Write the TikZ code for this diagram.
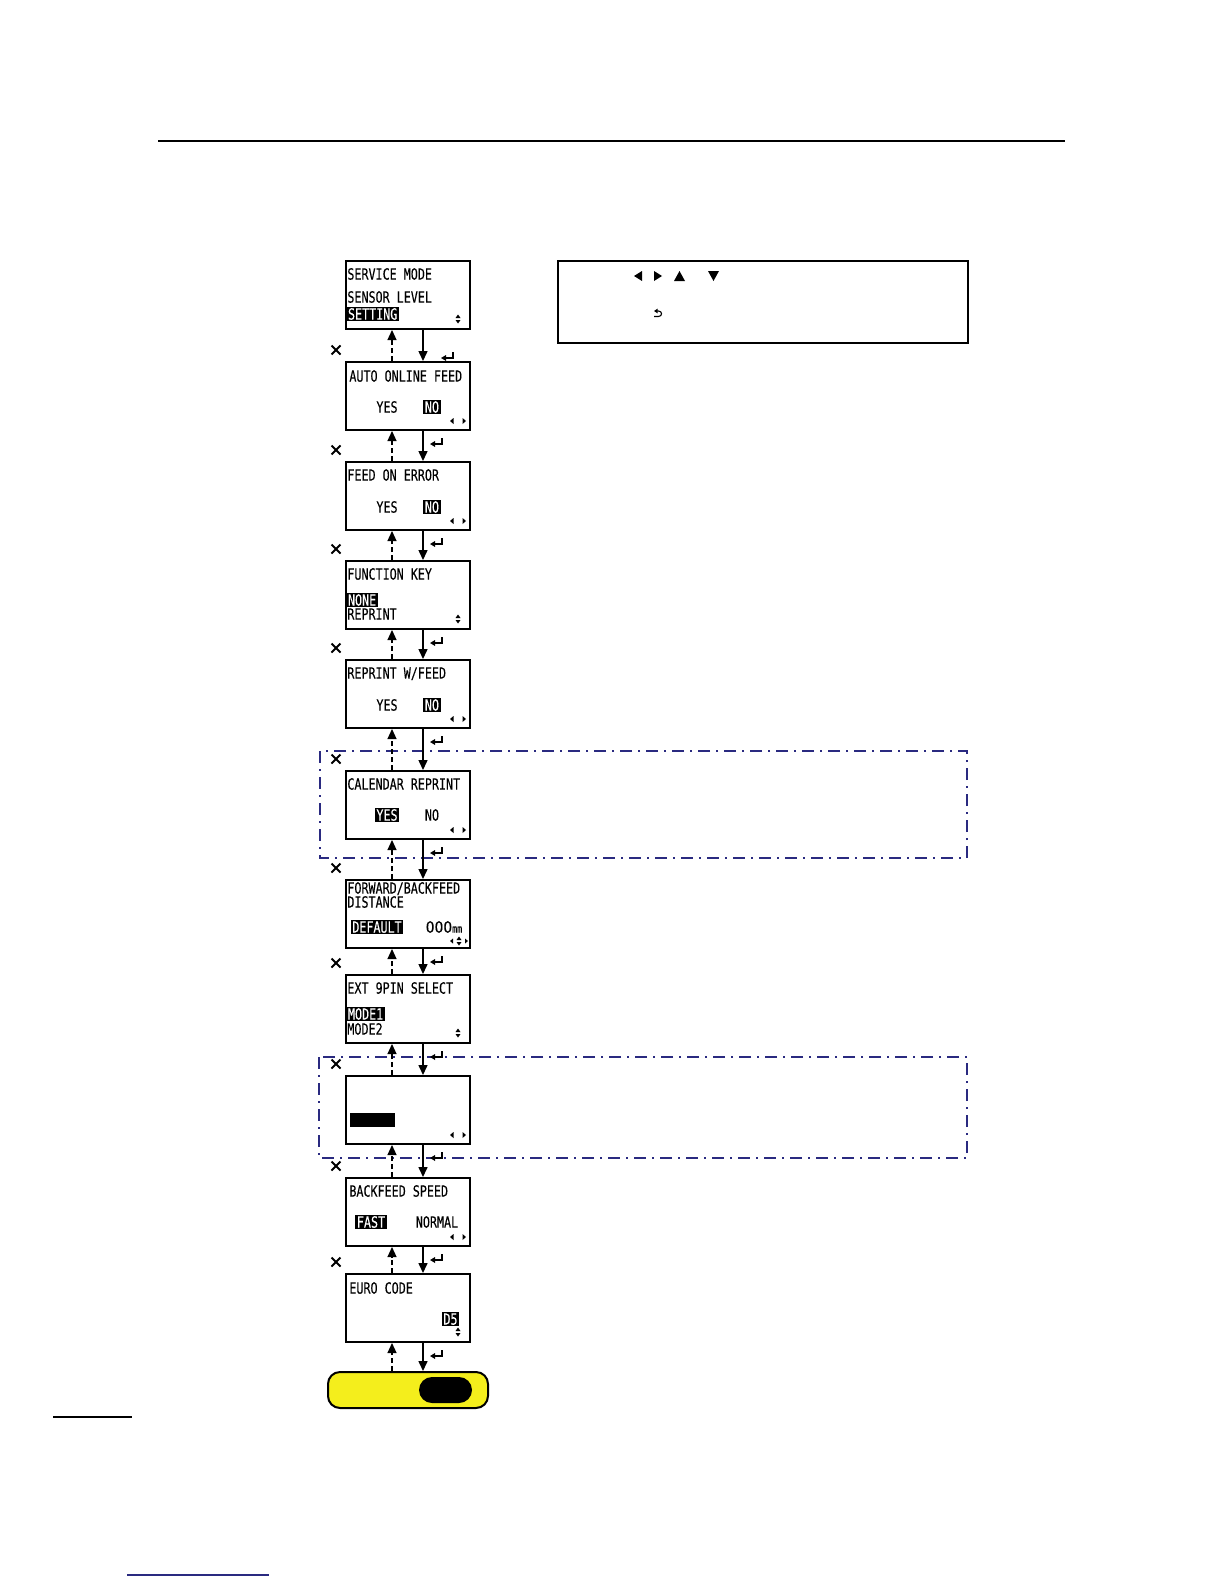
\documentclass[tikz,border=0pt]{standalone}
\usepackage{fontspec}
\usetikzlibrary{arrows.meta,calc}
\newfontfamily\lcdfont[FakeStretch=0.76,FakeBold=0.15]{DejaVu Sans Mono}
\newfontfamily\lcdnum[FakeStretch=0.9,FakeBold=0.15]{DejaVu Sans}
\definecolor{navy}{HTML}{2A2A80}
\definecolor{btnyellow}{HTML}{F4EE1C}
\newcommand{\lrind}[1]{%
  \fill ($(#1.north west)+(105,60)$) -- ++(3.5,-3) -- ++(0,6) -- cycle;
  \fill ($(#1.north west)+(121,60)$) -- ++(-3.5,-3) -- ++(0,6) -- cycle;}
\newcommand{\udind}[3]{%
  \fill ($(#1.north west)+(#2,#3)$) ++(0,-1) -- ++(-2.5,0) -- ++(2.5,-3.5) -- ++(2.5,3.5) -- cycle;
  \fill ($(#1.north west)+(#2,#3)$) ++(0,1) -- ++(-2.5,0) -- ++(2.5,3.5) -- ++(2.5,-3.5) -- cycle;}
\newcommand{\xmark}[1]{%
  \draw[xm] ($(#1.north west)+(-13.5,-15.5)$) -- ++(9,9);
  \draw[xm] ($(#1.north west)+(-13.5,-6.5)$) -- ++(9,-9);}
\begin{document}
\begin{tikzpicture}[x=0.5pt,y=-0.5pt,
  screen/.style={draw,line width=1pt,minimum width=62pt,minimum height=34pt,anchor=north west,inner sep=0pt},
  lcd/.style={font=\lcdfont\fontsize{7.7}{8}\selectfont,inner sep=0pt,text height=5.6pt,text depth=0pt},
  hl/.style={lcd,fill=black,text=white,inner xsep=0.8pt,inner ysep=0.9pt},
  downarr/.style={line width=0.75pt,-{Triangle[width=4.5pt,length=5pt]}},
  uparr/.style={line width=0.6pt,dash pattern=on 2.5pt off 1.5pt,-{Triangle[width=4.5pt,length=5pt]}},
  entr/.style={line width=0.65pt,-{Triangle[width=2.8pt,length=2.5pt]}},
  xm/.style={line width=1pt},
  dashdot/.style={draw=navy,line width=0.75pt,dash pattern=on 6pt off 3pt on 1pt off 3pt}]
\useasboundingbox (0,0) rectangle (1224,1584);

% page rules
\draw[line width=0.9pt] (158,141) -- (1065,141);
\draw[line width=0.6pt] (53,1417) -- (132,1417);
\draw[navy,line width=0.9pt] (127,1575) -- (269,1575);

% dash-dot frames
\draw[dashdot] (320,751) rectangle (967,858);
\draw[dashdot] (319,1057) rectangle (967,1158);

% info box
\node[draw,line width=1pt,anchor=north west,minimum width=205pt,minimum height=41pt,inner sep=0pt] (info) at (557,260) {};
\fill (634,276) -- ++(8,-5) -- ++(0,10) -- cycle;
\fill (662,276) -- ++(-8,-5) -- ++(0,10) -- cycle;
\fill (674,281) -- ++(11,0) -- ++(-5.5,-10) -- cycle;
\fill (708,271) -- ++(11,0) -- ++(-5.5,10) -- cycle;
\draw[line width=0.55pt,-{Triangle[width=2.2pt,length=1.8pt]}] (654,316.5) -- (658.5,316.5) .. controls (662.5,316.5) and (662.5,311) .. (658.5,311) -- (654,311);

% screens
\node[screen] (s1) at (345,260) {};
\node[screen] (s2) at (345,361) {};
\node[screen] (s3) at (345,461) {};
\node[screen] (s4) at (345,560) {};
\node[screen] (s5) at (345,659) {};
\node[screen] (s6) at (345,770) {};
\node[screen] (s7) at (345,879) {};
\node[screen] (s8) at (345,974) {};
\node[screen] (s9) at (345,1075) {};
\node[screen] (s10) at (345,1177) {};
\node[screen] (s11) at (345,1273) {};
\node[draw,line width=1pt,fill=btnyellow,rounded corners=6pt,anchor=north west,minimum width=80pt,minimum height=18pt,inner sep=0pt] (btn) at (327,1371) {};
\node[fill=black,rounded corners=6.5pt,minimum width=26.5pt,minimum height=13pt,inner sep=0pt] (pill) at (445.5,1390) {};

% screen 1
\node[lcd,anchor=west] (t1a) at ($(s1.north west)+(2,14)$) {SERVICE MODE};
\node[lcd,anchor=west] (t1b) at ($(s1.north west)+(2,37)$) {SENSOR LEVEL};
\node[hl,anchor=west] (t1c) at ($(s1.north west)+(1,54)$) {SETTING};
\udind{s1}{113}{59}
% screen 2
\node[lcd,anchor=west] (t2a) at ($(s2.north west)+(4,15)$) {AUTO ONLINE FEED};
\node[lcd] (t2b) at ($(s2.north west)+(42,46)$) {YES};
\node[hl] (t2c) at ($(s2.north west)+(87,46)$) {NO};
\lrind{s2}
% screen 3
\node[lcd,anchor=west] (t3a) at ($(s3.north west)+(2,14)$) {FEED ON ERROR};
\node[lcd] (t3b) at ($(s3.north west)+(42,46)$) {YES};
\node[hl] (t3c) at ($(s3.north west)+(87,46)$) {NO};
\lrind{s3}
% screen 4
\node[lcd,anchor=west] (t4a) at ($(s4.north west)+(2,14)$) {FUNCTION KEY};
\node[hl,anchor=west] (t4b) at ($(s4.north west)+(1,40)$) {NONE};
\node[lcd,anchor=west] (t4c) at ($(s4.north west)+(2,54)$) {REPRINT};
\udind{s4}{113}{59}
% screen 5
\node[lcd,anchor=west] (t5a) at ($(s5.north west)+(2,14)$) {REPRINT W/FEED};
\node[lcd] (t5b) at ($(s5.north west)+(42,46)$) {YES};
\node[hl] (t5c) at ($(s5.north west)+(87,46)$) {NO};
\lrind{s5}
% screen 6
\node[lcd,anchor=west] (t6a) at ($(s6.north west)+(2,14)$) {CALENDAR REPRINT};
\node[hl] (t6b) at ($(s6.north west)+(42,45)$) {YES};
\node[lcd] (t6c) at ($(s6.north west)+(87,45)$) {NO};
\lrind{s6}
% screen 7
\node[lcd,anchor=west] (t7a) at ($(s7.north west)+(2,9)$) {FORWARD/BACKFEED};
\node[lcd,anchor=west] (t7b) at ($(s7.north west)+(2,23)$) {DISTANCE};
\node[hl] (t7c) at ($(s7.north west)+(32,48)$) {DEFAULT};
\node[lcd] (t7d) at ($(s7.north west)+(99,48)$) {{\lcdnum\fontsize{7.7}{8}\selectfont 000}{\fontsize{5.5}{6}\selectfont mm}};
\fill ($(s7.north west)+(105,62)$) -- ++(3,-2.5) -- ++(0,5) -- cycle;
\fill ($(s7.north west)+(123,62)$) -- ++(-3,-2.5) -- ++(0,5) -- cycle;
\udind{s7}{114}{62}
% screen 8
\node[lcd,anchor=west] (t8a) at ($(s8.north west)+(2,14)$) {EXT 9PIN SELECT};
\node[hl,anchor=west] (t8b) at ($(s8.north west)+(1,40)$) {MODE1};
\node[lcd,anchor=west] (t8c) at ($(s8.north west)+(2,55)$) {MODE2};
\udind{s8}{113}{59}
% screen 9
\fill ($(s9.north west)+(5,38)$) rectangle ($(s9.north west)+(50,52)$);
\lrind{s9}
% screen 10
\node[lcd,anchor=west] (t10a) at ($(s10.north west)+(4,14)$) {BACKFEED SPEED};
\node[hl] (t10b) at ($(s10.north west)+(26,45)$) {FAST};
\node[lcd] (t10c) at ($(s10.north west)+(92,45)$) {NORMAL};
\lrind{s10}
% screen 11
\node[lcd,anchor=west] (t11a) at ($(s11.north west)+(4,15)$) {EURO CODE};
\node[hl] (t11b) at ($(s11.north west)+(105.5,46)$) {D5};
\udind{s11}{113}{59}

% connectors
\coordinate (ux) at (392,0);
\coordinate (dx) at (423,0);
\foreach \a/\b in {s1/s2,s2/s3,s3/s4,s4/s5,s5/s6,s6/s7,s7/s8,s8/s9,s9/s10,s10/s11,s11/btn}{
  \draw[downarr] (\a.south -| dx) -- (\b.north -| dx);
  \draw[uparr] (\b.north -| ux) -- (\a.south -| ux);
}
% cancel marks
\foreach \b in {s2,s3,s4,s5,s6,s7,s8,s9,s10,s11}{\xmark{\b}}
% enter marks
\draw[entr] ($(s1.south west)+(108,22)$) -- ++(0,6) -- ++(-12,0);
\foreach \a in {s2,s3,s4,s5,s6,s7,s8,s9,s10,s11}{
  \draw[entr] ($(\a.south west)+(97,7)$) -- ++(0,6) -- ++(-12,0);
}
\end{tikzpicture}
\end{document}
